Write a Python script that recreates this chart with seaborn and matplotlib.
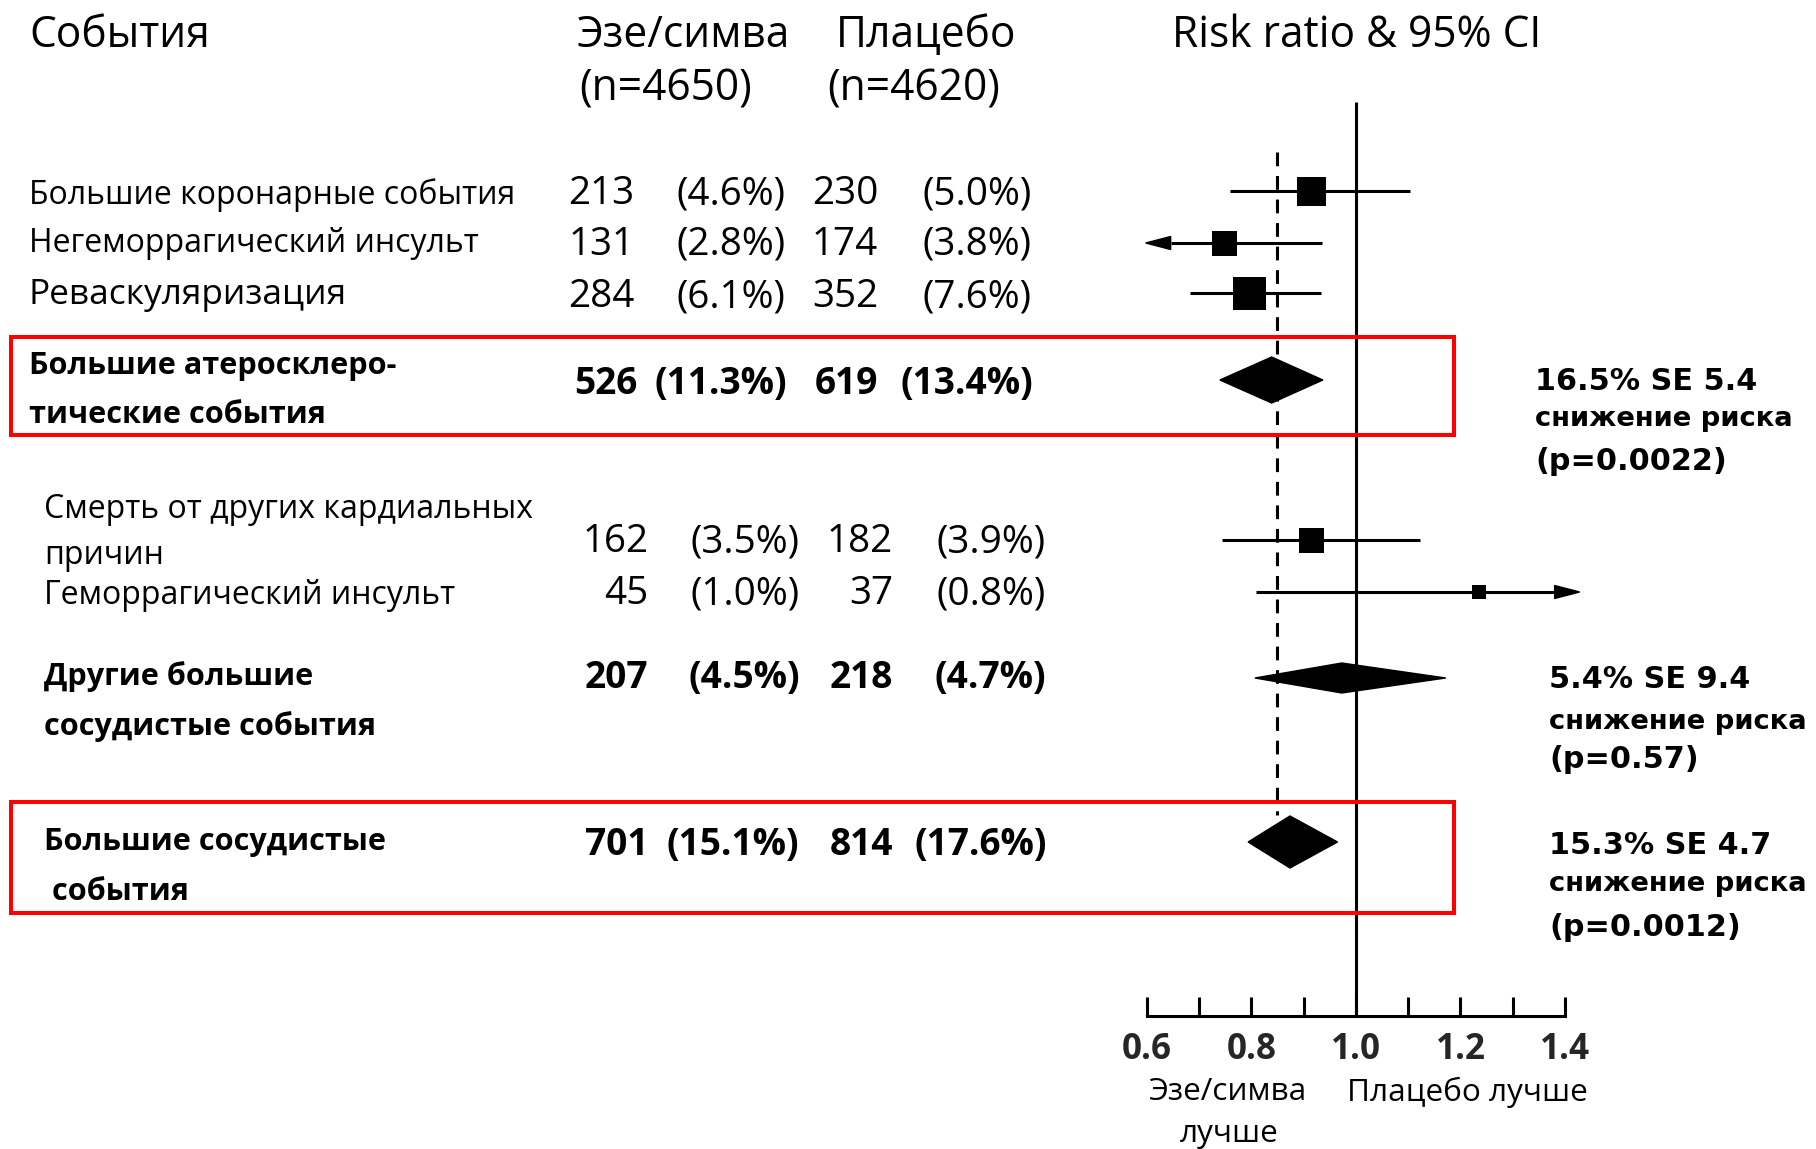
import numpy as np
import pandas as pd
import matplotlib
matplotlib.use("Agg")
import matplotlib.pyplot as plt
from matplotlib.patches import Rectangle, Polygon
import seaborn as sns

# ---------------- data ----------------
events = ["Большие коронарные события", "Негеморрагический инсульт", "Реваскуляризация",
          "Большие атеросклеро-\nтические события",
          "Смерть от других кардиальных\nпричин", "Геморрагический инсульт",
          "Другие большие\nсосудистые события", "Большие сосудистые\n события"]
kind = ["box", "box", "box", "diamond", "box", "box", "diamond", "diamond"]
ez_n = [213, 131, 284, 526, 162, 45, 207, 701]
ez_pct = [4.6, 2.8, 6.1, 11.3, 3.5, 1.0, 4.5, 15.1]
pl_n = [230, 174, 352, 619, 182, 37, 218, 814]
pl_pct = [5.0, 3.8, 7.6, 13.4, 3.9, 0.8, 4.7, 17.6]
rr = [0.916, 0.748, 0.797, 0.839, 0.915, 1.235, 0.973, 0.874]
rr_lo = [0.759, 0.598, 0.683, 0.740, 0.744, 0.809, 0.807, 0.794]
rr_hi = [1.103, 0.935, 0.933, 0.937, 1.123, 1.428, 1.172, 0.965]
arrow = [None, "left", None, None, None, "right", None, None]
summary = [None, None, None, ("16.5% SE 5.4", "снижение риска", "(p=0.0022)"), None, None,
           ("5.4% SE 9.4", "снижение риска", "(p=0.57)"),
           ("15.3% SE 4.7", "снижение риска", "(p=0.0012)")]
overall_rr = 0.849
tick_vals = [0.6, 0.8, 1.0, 1.2, 1.4]

# ---------------- layout / style ----------------
W, H = 1816, 1149
row_y = [191, 243, 293, 380, 540, 592, 678, 842]
box_px = [29, 25, 33, None, 25, 14, None, None]
diamond_half = [None, None, None, 23, None, None, 15, 26]
DY = 4  # text vertical nudge (px)

sns.set_theme(style="white")
CAL = ["Open Sans", "DejaVu Sans"]
VER = ["DejaVu Sans"]
plt.rcParams["font.family"] = CAL

fig = plt.figure(figsize=(W / 100, H / 100), dpi=100)
fig.patch.set_facecolor("white")
renderer = fig.canvas.get_renderer()


def fit_size(s, target, family, weight="normal"):
    t = fig.text(0, 0, s, fontsize=20, family=family, fontweight=weight)
    w = t.get_window_extent(renderer).width
    t.remove()
    return 20 * target / w


S_HEAD = fit_size("Эзе/симва", 213, CAL)
S_ROW = fit_size("Большие коронарные события", 486, CAL)
S_REV = fit_size("Реваскуляризация", 318, CAL)
S_NUM = fit_size("(4.6%)", 109, CAL)
S_BLAB = fit_size("Большие атеросклеро-", 368, CAL, "bold")
S_BNUM = fit_size("(11.3%)", 133, CAL, "bold")
S_R1 = fit_size("16.5% SE 5.4", 222, VER, "bold")
S_R2 = fit_size("снижение риска", 259, VER, "bold")
S_TICK = fit_size("1.4", 50, CAL, "bold")
S_CAP = fit_size("Плацебо лучше", 240, CAL)


def put(x, y, s, size, family=CAL, weight="normal", ha="left"):
    fig.text(x / W, 1 - (y + DY) / H, s, fontsize=size, family=family, fontweight=weight,
             ha=ha, va="center", color="black")


# header
put(29, 32, "События", S_HEAD)
put(577, 32, "Эзе/симва", S_HEAD)
put(579, 85, "(n=4650)", S_HEAD)
put(836, 32, "Плацебо", S_HEAD)
put(827, 85, "(n=4620)", S_HEAD)
put(1172, 32, "Risk ratio & 95% CI", S_HEAD)

# table rows
label_x = [29, 29, 29, 29, 44, 44, 44, 44]
label_lines_y = [[191], [239], [291], [362, 411], [506, 551], [592], [673, 723], [838, 888]]
num_y = [190, 241, 293, 380, 538, 590, 674, 841]
cols = [(634.6, 676, 878, 923), (634.6, 676, 878, 923), (634.6, 676, 878, 923), (637, 654, 878, 901),
        (648.5, 690, 893, 937), (648.5, 690, 893, 937), (648.5, 688, 893, 934.5), (648.5, 667, 893, 915)]
bold_rows = {3, 6, 7}
for i, lab in enumerate(events):
    b = i in bold_rows
    size = S_BLAB if b else (S_REV if i == 2 else S_ROW)
    w = "bold" if b else "normal"
    for line, ly in zip(lab.split("\n"), label_lines_y[i]):
        put(label_x[i], ly, line, size, weight=w)
    ns = S_BNUM if b else S_NUM
    c = cols[i]
    put(c[0], num_y[i], f"{ez_n[i]}", ns, weight=w, ha="right")
    put(c[1], num_y[i], f"({ez_pct[i]:.1f}%)", ns, weight=w)
    put(c[2], num_y[i], f"{pl_n[i]}", ns, weight=w, ha="right")
    put(c[3], num_y[i], f"({pl_pct[i]:.1f}%)", ns, weight=w)

# summary texts on right
sum_pos = {3: (1535, [377, 415, 457]), 6: (1549, [675, 718, 756]), 7: (1549, [841, 880, 923])}
for i, (x, ys) in sum_pos.items():
    l1, l2, l3 = summary[i]
    put(x, ys[0], l1, S_R1, family=VER, weight="bold")
    put(x, ys[1], l2, S_R2, family=VER, weight="bold")
    put(x, ys[2], l3, S_R1, family=VER, weight="bold")

# red boxes
for (y0, y1) in [(337, 435), (802, 913)]:
    fig.add_artist(Rectangle((11 / W, 1 - y1 / H), (1454 - 11) / W, (y1 - y0) / H,
                             transform=fig.transFigure, fill=False, edgecolor="#ff0000",
                             linewidth=2.9, zorder=5))

# ---------------- forest axes ----------------
ax = fig.add_axes([1146.7 / W, 0, 418.3 / W, 1])
ax.set_facecolor("none")
for s in ["top", "left", "right"]:
    ax.spines[s].set_visible(False)

# reference lines
ax.vlines(1.0, 102, 1015.7, color="black", linewidth=2.2, zorder=2)
ax.vlines(overall_rr, 152, 815, color="black", linewidth=2.2, linestyles=(0, (4.5, 3.2)), zorder=2)

px_per_unit = 418.3 / 0.8
head_len = 25 / px_per_unit
for i in range(len(rr)):
    y = row_y[i]
    if kind[i] == "box":
        lo, hi = rr_lo[i], rr_hi[i]
        x0 = lo + head_len if arrow[i] == "left" else lo
        x1 = hi - head_len if arrow[i] == "right" else hi
        ax.plot([x0, x1], [y, y], color="black", linewidth=2.2, solid_capstyle="butt",
                clip_on=False, zorder=3)
        if arrow[i] == "left":
            ax.add_patch(Polygon([[lo, y], [lo + head_len, y - 6.5], [lo + head_len, y + 6.5]],
                                 closed=True, color="black", clip_on=False, zorder=3))
        if arrow[i] == "right":
            ax.add_patch(Polygon([[hi, y], [hi - head_len, y - 6.5], [hi - head_len, y + 6.5]],
                                 closed=True, color="black", clip_on=False, zorder=3))
    else:
        h = diamond_half[i]
        ax.add_patch(Polygon([[rr_lo[i], y], [rr[i], y - h], [rr_hi[i], y], [rr[i], y + h]],
                             closed=True, color="black", clip_on=False, zorder=4))

box_idx = [i for i in range(len(rr)) if kind[i] == "box"]
df = pd.DataFrame({"rr": [rr[i] for i in box_idx], "y": [row_y[i] for i in box_idx],
                   "area": [(box_px[i] * 0.72) ** 2 for i in box_idx]})
sns.scatterplot(data=df, x="rr", y="y", size="area", sizes=(df["area"].min(), df["area"].max()),
                size_norm=(df["area"].min(), df["area"].max()), marker="s", color="black",
                edgecolor="none", linewidth=0, legend=False, ax=ax, zorder=5, clip_on=False)
ax.set_xlabel("")
ax.set_ylabel("")
ax.set_xlim(0.6, 1.4)
ax.set_ylim(H, 0)
ax.spines["bottom"].set_position(("data", 1015.7))
ax.spines["bottom"].set_bounds(0.6, 1.4)
ax.spines["bottom"].set_linewidth(2.2)
ax.spines["bottom"].set_color("black")
ax.set_yticks([])
ax.set_xticks(tick_vals)
ax.set_xticklabels([f"{v:.1f}" for v in tick_vals], fontsize=S_TICK, fontweight="bold", family=CAL)
ax.set_xticks([0.7, 0.9, 1.1, 1.3], minor=True)
ax.tick_params(axis="x", which="both", direction="in", length=13.5, width=2.2, color="black",
               pad=12, bottom=True)

# axis captions
put(1148, 1088, "Эзе/симва", S_CAP)
put(1229, 1130, "лучше", S_CAP, ha="center")
put(1347, 1088, "Плацебо лучше", S_CAP)

fig.savefig("out.png", dpi=100, facecolor="white")
